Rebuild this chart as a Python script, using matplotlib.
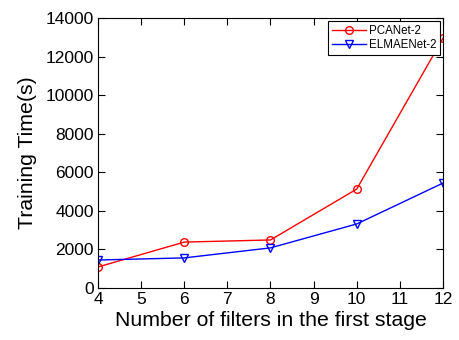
import matplotlib
matplotlib.use('Agg')
import matplotlib.pyplot as plt

# numero de filtros no primeiro estagio
filtros = [4, 6, 8, 10, 12]
pcanet = [1090, 2380, 2490, 5130, 12950]
elmaenet = [1450, 1560, 2080, 3320, 5440]

plt.rcParams['font.family'] = ['Liberation Sans', 'DejaVu Sans']

fig = plt.figure(figsize=(4.59, 3.40), dpi=100)
ax = fig.add_axes([0.2135, 0.153, 0.7516, 0.794])

ax.plot(filtros, pcanet, color='red', marker='o', markersize=5.5, markerfacecolor='none',
        linewidth=1, label='PCANet-2')
ax.plot(filtros, elmaenet, color='blue', marker='v', markersize=6, markerfacecolor='none',
        linewidth=1, label='ELMAENet-2')

ax.set_xlim(4, 12)
ax.set_ylim(0, 14000)
ax.set_xticks(range(4, 13))
ax.set_yticks(range(0, 14001, 2000))
ax.tick_params(direction='in', top=True, right=True, labelsize=12.5, length=5, pad=3)
ax.set_xlabel('Number of filters in the first stage', fontsize=15.3, labelpad=3)
ax.set_ylabel('Training Time(s)', fontsize=15.3, labelpad=6)

leg = ax.legend(loc='upper right', fontsize=8.3, fancybox=False, framealpha=1,
                edgecolor='black', borderpad=0.3, labelspacing=0.2, handlelength=3,
                handletextpad=0.2, borderaxespad=0.3)
leg.get_frame().set_linewidth(0.8)

plt.savefig('out.png', dpi=100)
